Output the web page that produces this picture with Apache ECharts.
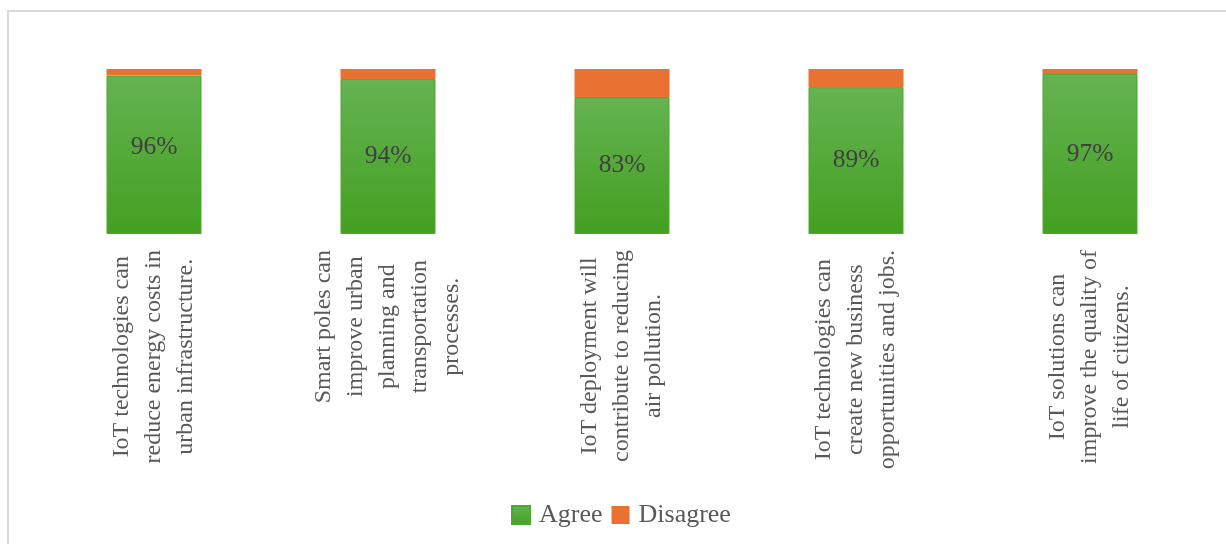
<!DOCTYPE html>
<html>
<head>
<meta charset="utf-8">
<style>
  html, body { margin: 0; padding: 0; background: #fff; }
  #chart { width: 1226px; height: 544px; }
</style>
<script src="https://cdn.jsdelivr.net/npm/echarts@6/dist/echarts.min.js"></script>
</head>
<body>
<div id="chart"></div>
<script>
const categories = [
  "IoT technologies can\nreduce energy costs in\nurban infrastructure.",
  "Smart poles can\nimprove urban\nplanning and\ntransportation\nprocesses.",
  "IoT deployment will\ncontribute to reducing\nair pollution.",
  "IoT technologies can\ncreate new business\nopportunities and jobs.",
  "IoT solutions can\nimprove the quality of\nlife of citizens."
];
const agree = [96, 94, 83, 89, 97];
const disagree = [4, 6, 17, 11, 3];

const serif = '"Liberation Serif", "Times New Roman", serif';

const chart = echarts.init(document.getElementById("chart"));

const greenFill = new echarts.graphic.LinearGradient(0, 0, 0, 1, [
  { offset: 0, color: "#65b352" },
  { offset: 1, color: "#43a020" },
]);

const option = {
  animation: false,
  textStyle: { fontFamily: serif },
  graphic: [{
    type: "rect",
    shape: { x: 8, y: 11, width: 1300, height: 600 },
    style: { fill: "none", stroke: "#d9d9d9", lineWidth: 2 },
    silent: true,
  }],
  grid: { left: 37, right: 19, top: 69, bottom: 310 },
  legend: {
    bottom: 11,
    left: 506,
    icon: "rect",
    itemWidth: 18,
    itemHeight: 18,
    itemGap: 9,
    textStyle: { fontFamily: serif, fontSize: 26, color: "#595959", padding: [0, 0, 0, 4] },
    data: ["Agree", "Disagree"],
  },
  xAxis: {
    type: "category",
    data: categories,
    axisLine: { show: false },
    axisTick: { show: false },
    axisLabel: {
      interval: 0,
      rotate: 90,
      margin: 16,
      formatter: (v) => v.split("\n").map((s) => "{c|" + s + "}").join("\n"),
      rich: {
        c: { align: "center", fontFamily: serif, fontSize: 24, lineHeight: 32, color: "#595959" },
      },
    },
  },
  yAxis: {
    type: "value",
    min: 0,
    max: 100,
    show: false,
  },
  series: [
    {
      name: "Agree",
      type: "bar",
      stack: "total",
      barWidth: 95,
      data: agree.map((v, i) => i === 0 ? { value: v, label: { offset: [0, -8] } } : v),
      itemStyle: { color: greenFill, borderColor: "#4ea72e", borderWidth: 1 },
      label: {
        show: true,
        position: "inside",
        formatter: "{c}%",
        fontFamily: serif,
        fontSize: 25.5,
        color: "#404040",
      },
    },
    {
      name: "Disagree",
      type: "bar",
      stack: "total",
      barWidth: 95,
      data: disagree,
      itemStyle: { color: "#e97132" },
    },
  ],
};

chart.setOption(option);
window.addEventListener("resize", () => chart.resize());
</script>
</body>
</html>
